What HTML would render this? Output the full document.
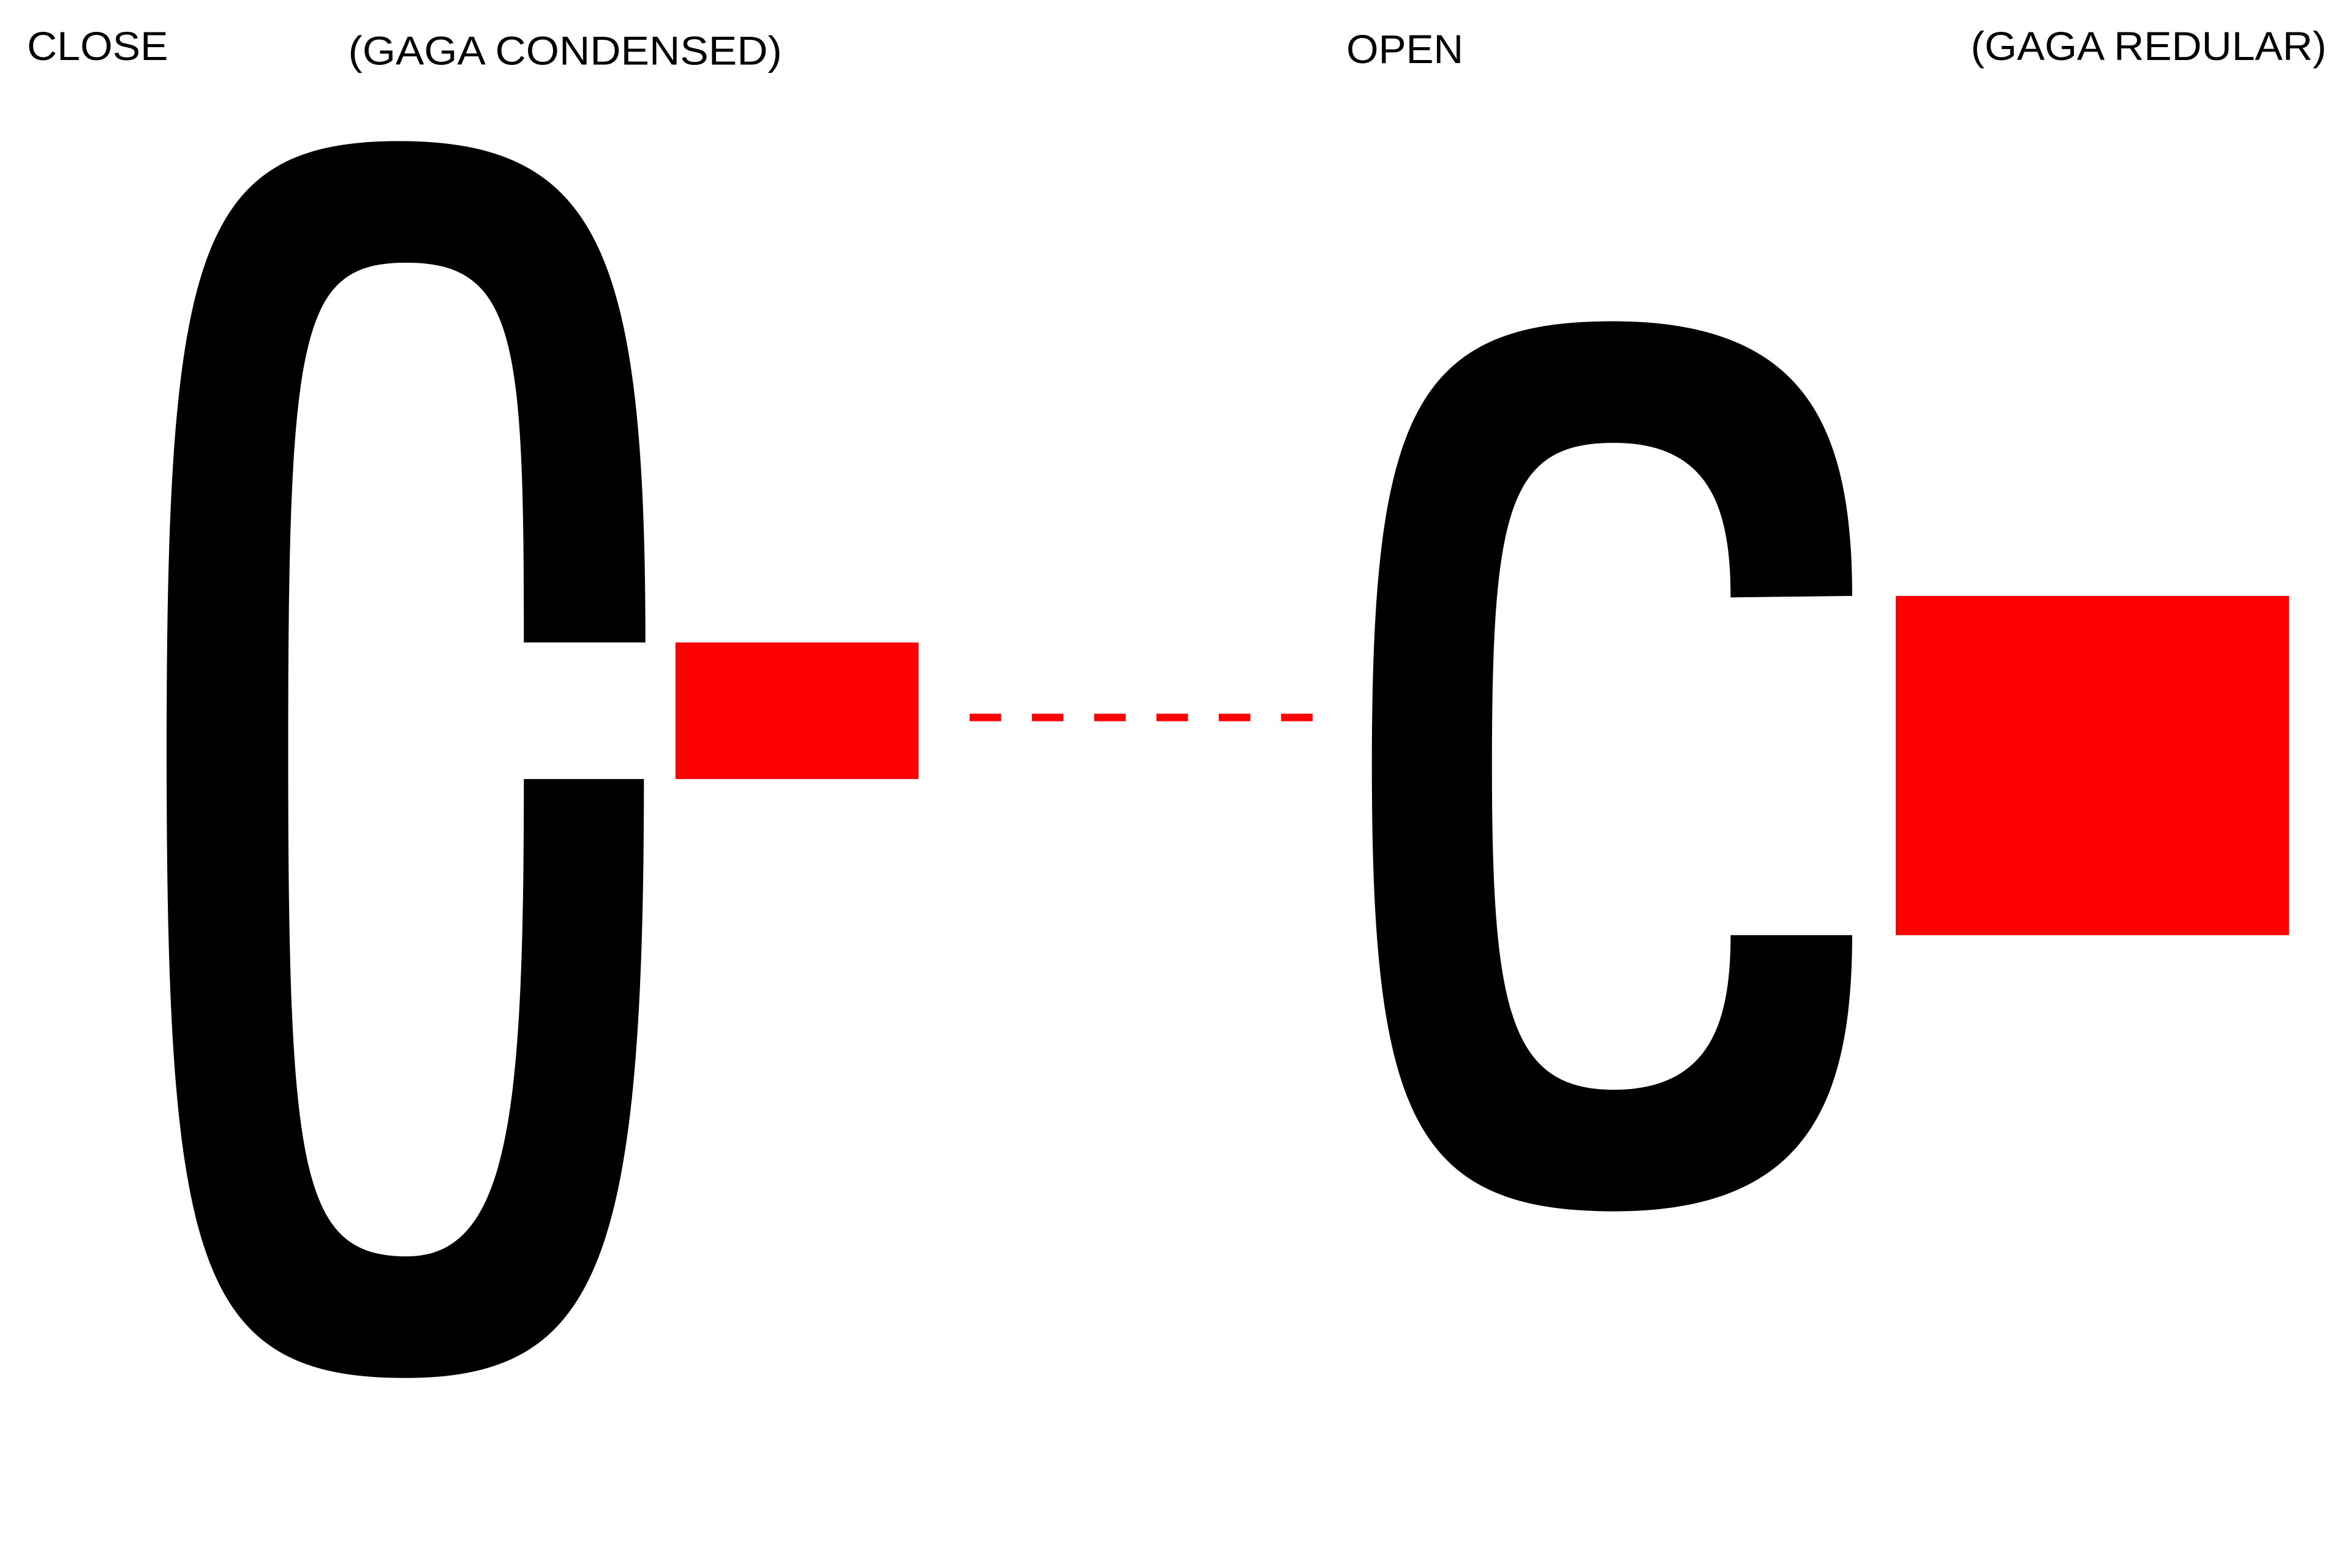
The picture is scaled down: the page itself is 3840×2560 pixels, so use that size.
<!DOCTYPE html>
<html>
<head>
<meta charset="utf-8">
<style>
html,body{margin:0;padding:0;background:#fff;}
svg{display:block;}
text{font-family:"Liberation Sans",sans-serif;fill:#000;}
</style>
</head>
<body>
<svg width="3840" height="2560" viewBox="0 0 1567 1044.6" preserveAspectRatio="none" xmlns="http://www.w3.org/2000/svg">
<rect x="0" y="0" width="1567" height="1045" fill="#fff"/>
<text x="18" y="40" font-size="27" textLength="94" lengthAdjust="spacingAndGlyphs">CLOSE</text>
<text x="232" y="43" font-size="27" textLength="289" lengthAdjust="spacingAndGlyphs">(GAGA CONDENSED)</text>
<text x="897" y="42" font-size="27" textLength="78" lengthAdjust="spacingAndGlyphs">OPEN</text>
<text x="1313" y="40" font-size="27" textLength="237" lengthAdjust="spacingAndGlyphs">(GAGA REDULAR)</text>

<path fill="#000" d="M430,428 C430,170 400,94 266,94 C130,94 111,170 111,500 C111,840 130,918 270,918 C400,918 429,840 429,519 L349,519 C349,740 340,837 271,837 C200,837 192,780 192,500 C192,220 200,175 271,175 C345,175 349,230 349,428 Z"/>
<rect x="450" y="428" width="162" height="91" fill="#ff0000"/>
<line x1="646" y1="478" x2="876" y2="478" stroke="#ff0000" stroke-width="5" stroke-dasharray="21,20.5"/>

<path fill="#000" d="M1234,397 C1234,280 1200,214 1074,214 C940,214 914,280 914,510 C914,740 940,807 1075,807 C1200,807 1234,740 1234,623 L1153,623 C1153,680 1140,726 1075,726 C1005,726 994,670 994,510 C994,340 1005,295 1075,295 C1140,295 1153,340 1153,398 Z"/>
<rect x="1263" y="397" width="262" height="226" fill="#ff0000"/>
</svg>
</body>
</html>
